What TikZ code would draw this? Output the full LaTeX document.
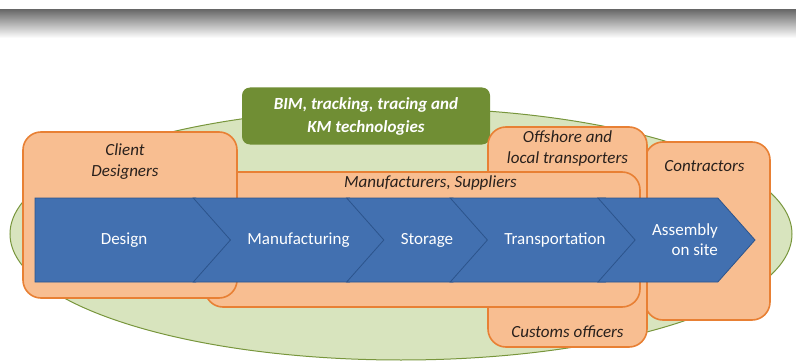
\documentclass[tikz,border=0pt]{standalone}
\usepackage{fontspec}
\setmainfont{Carlito}
\usetikzlibrary{positioning,shapes.geometric,shapes.symbols}
\definecolor{fieldgreen}{RGB}{216,228,190}
\definecolor{fieldline}{RGB}{120,150,60}
\definecolor{techgreen}{RGB}{112,142,52}
\definecolor{peach}{RGB}{248,190,145}
\definecolor{peachline}{RGB}{232,128,52}
\definecolor{flowblue}{RGB}{66,112,176}
\definecolor{flowline}{RGB}{44,84,140}
\definecolor{labeltext}{RGB}{40,32,28}

\begin{document}
\begin{tikzpicture}[x=1pt,y=-1pt,
field/.style={draw=fieldline,fill=fieldgreen,ellipse,line width=1pt,minimum width=782pt,minimum height=252pt,inner sep=0pt},
techbox/.style={fill=techgreen,rounded corners=8pt,align=center,text=white,font=\fontsize{17}{23}\selectfont\bfseries\itshape},
actor/.style={draw=peachline,fill=peach,line width=1.6pt,rounded corners=18pt,inner sep=0pt},
actortext/.style={align=center,text=labeltext,font=\fontsize{17}{21}\selectfont\itshape,inner sep=0pt},
phase/.style={signal,signal to=east,signal pointer angle=97,draw=flowline,fill=flowblue,line width=0.8pt,minimum height=84pt,inner sep=0pt,text=white,align=center,font=\fontsize{17}{20}\selectfont,execute at begin node=\hspace*{17pt}},
midphase/.style={phase,signal from=west}]
\useasboundingbox (0,0) rectangle (796,361);
% grey strip along the top
\shade[top color=black!58,bottom color=white] (0,10) rectangle (796,38);
\node[field] (field) at (401,234) {};
\node[techbox,minimum width=248pt,minimum height=57pt] (tech) at (366,116) {BIM, tracking, tracing and\\KM technologies};
% actor groups, back to front
\node[actor,minimum width=125pt,minimum height=178pt] (contractors) at (707.5,231) {};
\node[actor,minimum width=159pt,minimum height=220pt] (transport) at (567.5,237) {};
\node[actor,minimum width=435pt,minimum height=135pt] (makers) at (422.5,239.5) {};
\node[actor,minimum width=214pt,minimum height=166pt] (client) at (130,215) {};
\node[actortext,below=12pt of client.north,xshift=-5pt] (clientlbl) {Client\\Designers};
\node[actortext,below=4pt of makers.north,xshift=8pt] (makerslbl) {Manufacturers, Suppliers};
\node[actortext,below=4pt of transport.north] (transportlbl) {Offshore and\\local transporters};
\node[actortext,above=10pt of transport.south] (customslbl) {Customs officers};
\node[actortext,below=19pt of contractors.north,xshift=-3pt] (contractorslbl) {Contractors};
% process chain
\node[phase,minimum width=198pt] (design) at (115.5,240) {Design};
\node[midphase,minimum width=186pt] (manufacturing) at (290,240) {Manufacturing};
\node[midphase,minimum width=143pt] (storage) at (418.5,240) {Storage};
\node[midphase,minimum width=187pt] (transportation) at (546.5,240) {Transportation};
\node[midphase,minimum width=153pt,align=right] (assembly) at (676.5,240) {Assembly\\on site};
\end{tikzpicture}
\end{document}
